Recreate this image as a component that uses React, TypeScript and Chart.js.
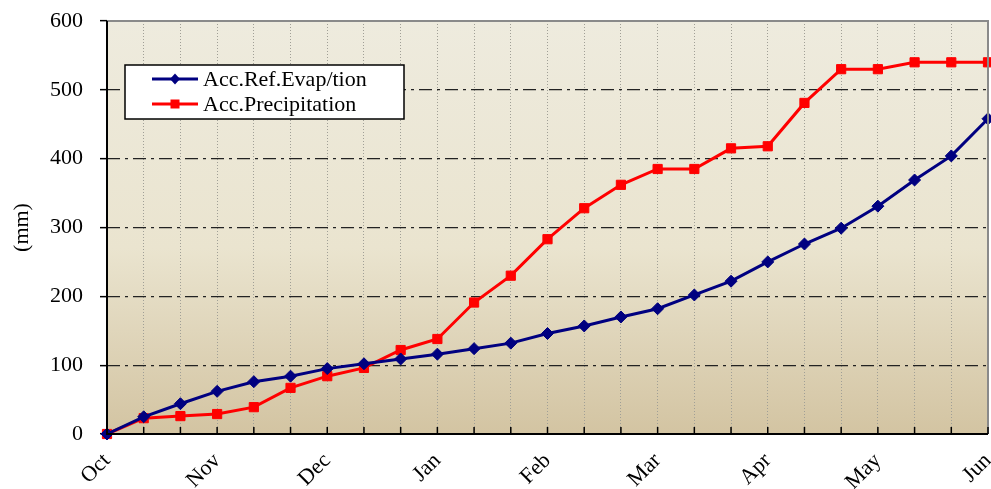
import React, { useEffect, useRef } from 'react';
import { Chart, registerables } from 'chart.js';

Chart.register(...registerables);

// 3 dekads per month, Oct .. Jun
const monthLabels = ['Oct', 'Nov', 'Dec', 'Jan', 'Feb', 'Mar', 'Apr', 'May', 'Jun'];
const categories = [
  'Oct', '', '', 'Nov', '', '', 'Dec', '', '', 'Jan', '', '', 'Feb', '', '',
  'Mar', '', '', 'Apr', '', '', 'May', '', '', 'Jun',
];
const evapValues = [
  0, 25, 44, 62, 76, 84, 95, 102, 109, 116, 124, 132, 146, 157, 170,
  182, 202, 222, 250, 276, 299, 331, 369, 404, 458,
];
const precipValues = [
  0, 23, 26, 29, 39, 67, 84, 96, 122, 138, 191, 230, 283, 328, 362,
  385, 385, 415, 418, 481, 530, 530, 540, 540, 540,
];
const yTickValues = [0, 100, 200, 300, 400, 500, 600];
const seriesNames = ['Acc.Ref.Evap/tion', 'Acc.Precipitation'];

const FONT = "'Liberation Serif', 'Times New Roman', serif";

const bgPlugin = {
  id: 'bgPlugin',
  beforeDraw(chart: any) {
    const { ctx, chartArea } = chart;
    const { left, top, right, bottom } = chartArea;
    const g = ctx.createLinearGradient(0, top, 0, bottom);
    g.addColorStop(0, '#EEEBDE');
    g.addColorStop(0.55, '#EAE4CF');
    g.addColorStop(1, '#D3C4A2');
    ctx.save();
    ctx.fillStyle = g;
    ctx.fillRect(left, top, right - left, bottom - top);
    ctx.restore();
  },
  afterDraw(chart: any) {
    const { ctx, chartArea, scales } = chart;
    const { left, top, right, bottom } = chartArea;
    ctx.save();
    ctx.strokeStyle = '#8a8a8a';
    ctx.lineWidth = 2;
    ctx.beginPath();
    ctx.moveTo(left, top);
    ctx.lineTo(right, top);
    ctx.lineTo(right, bottom);
    ctx.stroke();
    const xs = scales.x;
    ctx.strokeStyle = '#000';
    ctx.lineWidth = 1.5;
    for (let i = 1; i < categories.length; i++) {
      const px = xs.getPixelForValue(i);
      ctx.beginPath();
      ctx.moveTo(px, bottom);
      ctx.lineTo(px, bottom - 7);
      ctx.stroke();
    }
    ctx.lineWidth = 2;
    ctx.beginPath();
    ctx.moveTo(left, top);
    ctx.lineTo(left, bottom);
    ctx.lineTo(right, bottom);
    ctx.stroke();
    ctx.restore();

    // legend
    const bx = 125, by = 65, bw = 279, bh = 54;
    ctx.save();
    ctx.fillStyle = '#ffffff';
    ctx.fillRect(bx, by, bw, bh);
    ctx.strokeStyle = '#000';
    ctx.lineWidth = 1.5;
    ctx.strokeRect(bx, by, bw, bh);
    const rows = [79, 104];
    chart.data.datasets.forEach((ds: any, i: number) => {
      const y = rows[i];
      ctx.strokeStyle = ds.borderColor;
      ctx.lineWidth = 3;
      ctx.beginPath();
      ctx.moveTo(152, y);
      ctx.lineTo(198, y);
      ctx.stroke();
      ctx.fillStyle = ds.borderColor;
      ctx.beginPath();
      if (ds.pointStyle === 'rectRot') {
        ctx.moveTo(175, y - 5.5);
        ctx.lineTo(180, y);
        ctx.lineTo(175, y + 5.5);
        ctx.lineTo(170, y);
        ctx.closePath();
      } else {
        ctx.rect(170.5, y - 4.5, 9, 9);
      }
      ctx.fill();
      ctx.fillStyle = '#000';
      ctx.font = `22px ${FONT}`;
      ctx.textAlign = 'left';
      ctx.textBaseline = 'middle';
      ctx.fillText(ds.label, 203, y + 1);
    });
    ctx.restore();
  },
};

export default function App() {
  const ref = useRef<HTMLCanvasElement | null>(null);

  useEffect(() => {
    document.body.style.margin = '0';
    if (!ref.current) return;
    const chart = new Chart(ref.current, {
      type: 'line',
      data: {
        labels: categories,
        datasets: [
          {
            label: seriesNames[0],
            data: evapValues,
            borderColor: '#000080',
            backgroundColor: '#000080',
            borderWidth: 3,
            pointStyle: 'rectRot',
            pointRadius: 6,
            pointBorderWidth: 1,
            tension: 0,
            clip: false as any,
          },
          {
            label: seriesNames[1],
            data: precipValues,
            borderColor: '#FF0000',
            backgroundColor: '#FF0000',
            borderWidth: 3,
            pointStyle: 'rect',
            pointRadius: 6.5,
            pointBorderWidth: 1,
            tension: 0,
            clip: false as any,
          },
        ],
      },
      options: {
        animation: false,
        responsive: false,
        maintainAspectRatio: false,
        layout: { autoPadding: false, padding: { left: 0, right: 3, top: 21, bottom: 0 } },
        plugins: {
          legend: { display: false },
          tooltip: { enabled: false },
        },
        scales: {
          x: {
            type: 'category',
            afterFit: (s: any) => {
              s.height = 55;
              s.paddingRight = 0;
              s.paddingLeft = 0;
            },
            grid: {
              color: (c: any) => (c.index === 0 ? 'rgba(0,0,0,0)' : '#a09f96'),
              lineWidth: 1,
              drawTicks: false,
            },
            border: { display: false, dash: [1, 2] },
            ticks: {
              autoSkip: false,
              maxRotation: 45,
              minRotation: 45,
              padding: 14,
              color: '#000',
              font: { family: FONT, size: 22 },
              callback: (_v: any, i: number) => (i % 3 === 0 ? monthLabels[i / 3] : ''),
            },
          },
          y: {
            min: 0,
            max: 600,
            afterFit: (s: any) => {
              s.width = 107;
              s.paddingTop = 0;
              s.paddingBottom = 0;
            },
            afterBuildTicks: (s: any) => { s.ticks = yTickValues.map((v) => ({ value: v })); },
            grid: {
              color: (c: any) => (c.tick && (c.tick.value === 0 || c.tick.value === 600) ? 'rgba(0,0,0,0)' : '#222'),
              lineWidth: 1.3,
              tickColor: '#000',
              tickLength: 7,
              tickWidth: 1.5,
              tickBorderDash: [],
            } as any,
            border: { display: false, dash: [13, 5, 3, 5] },
            ticks: {
              padding: 17,
              color: '#000',
              font: { family: FONT, size: 22 },
            },
            title: {
              display: true,
              text: '(mm)',
              color: '#000',
              font: { family: FONT, size: 22 },
              padding: { top: 9, bottom: 0 },
            },
          },
        },
      },
      plugins: [bgPlugin],
    });
    return () => chart.destroy();
  }, []);

  return (
    <div style={{ position: 'fixed', left: 0, top: 0, width: 991, height: 489 }}>
      <canvas ref={ref} width={991} height={489} style={{ width: 991, height: 489, display: 'block' }} />
    </div>
  );
}
